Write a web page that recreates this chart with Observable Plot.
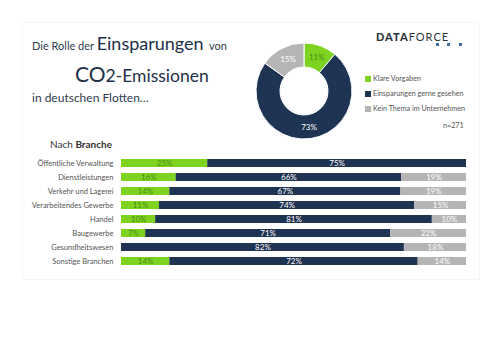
<!DOCTYPE html>
<html><head><meta charset="utf-8">
<script src="https://cdn.jsdelivr.net/npm/d3@7"></script>
<script src="https://cdn.jsdelivr.net/npm/@observablehq/plot@0.6"></script>
<style>
body{margin:0;background:#fff;font-family:Lato,"Open Sans",sans-serif;}
#wrap{position:relative;width:500px;height:353px;overflow:hidden;background:#fff;}
.abs{position:absolute;white-space:nowrap;}
#frame{position:absolute;left:22px;top:22px;width:456px;height:256px;border:1px solid #f6f6f6;}
.line{display:flex;align-items:baseline;line-height:1;color:#2e3b4e;}
.leg{position:absolute;left:365px;font-size:7.2px;color:#555;display:flex;align-items:center;white-space:nowrap;}
.sw{width:6px;height:6px;margin-right:2px;display:inline-block;}
.dot{position:absolute;width:3px;height:3px;background:#3a6ea5;}
</style></head><body><div id="wrap"><div id="frame"></div></div>
<script>
const branchen = ["Öffentliche Verwaltung","Dienstleistungen","Verkehr und Lagerei","Verarbeitendes Gewerbe","Handel","Baugewerbe","Gesundheitswesen","Sonstige Branchen"];
const kategorien = ["Klare Vorgaben","Einsparungen gerne gesehen","Kein Thema im Unternehmen"];
const klareVorgaben = [25,16,14,11,10,7,0,14];
const einsparungenGerne = [75,66,67,74,81,71,82,72];
const keinThema = [0,19,19,15,10,22,18,14];
const gesamt = [11,73,15];
const farben = ["#7ed321","#1f3352","#b5b5b5"];
const stichprobe = "n=271";

const wrap = document.getElementById("wrap");
const font = "Lato, 'Open Sans', sans-serif";

// Titles
function addHTML(html, css){const d=document.createElement("div");d.className="abs";d.style.cssText=css;d.innerHTML=html;wrap.appendChild(d);return d;}
addHTML('<div class="line"><span style="font-size:11px">Die Rolle der&nbsp;</span><span style="font-size:18px;color:#1e2f48">Einsparungen</span><span style="font-size:11px">&nbsp;&nbsp;von</span></div>',"left:32px;top:34px;");
addHTML('<div class="line" style="color:#1e2f48"><span style="font-size:21px">CO</span><span style="font-size:17.5px">2-Emissionen</span></div>',"left:75px;top:63px;");
addHTML('<div class="line"><span style="font-size:12px">in deutschen Flotten…</span></div>',"left:32px;top:92px;");
addHTML('<div class="line" style="color:#333"><span style="font-size:10px">Nach&nbsp;</span><span style="font-size:10px;font-weight:bold">Branche</span></div>',"left:50px;top:139px;");

// Logo
addHTML('<span style="font-weight:900">DATA</span><span style="font-weight:400">FORCE</span>',"left:376px;top:31px;font-size:11px;letter-spacing:1px;color:#2d3540;line-height:1;");
[436,447,459].forEach(x=>{const d=document.createElement("div");d.className="dot";d.style.left=x+"px";d.style.top="43px";wrap.appendChild(d);});

// Legend
const legY=[78,93,108];
kategorien.forEach((k,i)=>{const d=document.createElement("div");d.className="leg";d.style.top=(legY[i]-4)+"px";d.innerHTML=`<span class="sw" style="background:${farben[i]}"></span>${k}`;wrap.appendChild(d);});
addHTML(stichprobe,"left:443px;top:121px;font-size:7.2px;color:#555;");

// Bars
const rows = branchen.flatMap((b,i)=>[klareVorgaben[i],einsparungenGerne[i],keinThema[i]].map((v,k)=>({branche:b,kategorie:kategorien[k],wert:v})));
const bars = Plot.plot({
  width:500,height:353,marginLeft:121,marginRight:34,marginTop:153.7,marginBottom:82.5,
  x:{domain:[0,1],axis:null},
  y:{domain:branchen,paddingInner:0.42,paddingOuter:0.21,label:null,tickSize:0,tickPadding:8},
  color:{domain:kategorien,range:farben},
  style:{fontFamily:font,fontSize:"7.5px",color:"#555",background:"transparent",overflow:"visible"},
  marks:[
    Plot.barX(rows,Plot.stackX({x:"wert",y:"branche",fill:"kategorie",offset:"normalize",order:kategorien})),
    Plot.text(rows,Plot.stackX({x:"wert",y:"branche",z:"kategorie",offset:"normalize",order:kategorien,
      text:d=>d.kategorie===kategorien[0]&&d.wert>0?d.wert+"%":null,fill:"#4c8c14",fontSize:8})),
    Plot.text(rows,Plot.stackX({x:"wert",y:"branche",z:"kategorie",offset:"normalize",order:kategorien,
      text:d=>d.kategorie!==kategorien[0]&&d.wert>0?d.wert+"%":null,fill:"white",fontSize:8}))
  ]
});
bars.style.position="absolute";bars.style.left="0";bars.style.top="0";
wrap.appendChild(bars);

// Donut
const R=48, r0=24;
const pie=d3.pie().sort(null).value(d=>d.wert)(gesamt.map((w,i)=>({kategorie:kategorien[i],wert:w})));
const arcL=d3.arc().innerRadius(r0).outerRadius(R);
const labels=pie.map(p=>{const c=arcL.centroid(p);return {x:c[0],y:-c[1],text:p.data.wert+"%",kategorie:p.data.kategorie};});
const donut=Plot.plot({
  width:100,height:100,margin:0,
  x:{domain:[-50,50],axis:null},y:{domain:[-50,50],axis:null},
  style:{background:"transparent",fontFamily:font,overflow:"visible"},
  marks:[
    (index,scales)=>{
      const cx=scales.x(0), cy=scales.y(0), k=Math.abs(scales.x(1)-scales.x(0));
      const arc=d3.arc().innerRadius(r0*k).outerRadius(R*k);
      const g=d3.create("svg:g").attr("transform",`translate(${cx},${cy})`);
      g.selectAll("path").data(pie).join("path").attr("d",arc).attr("fill",(d,i)=>farben[i]).attr("stroke","white").attr("stroke-width",1);
      return g.node();
    },
    Plot.text(labels,{x:"x",y:"y",text:"text",fill:d=>d.kategorie===kategorien[0]?"#4c8c14":"white",fontSize:8})
  ]
});
donut.style.position="absolute";donut.style.left="254px";donut.style.top="41px";
wrap.appendChild(donut);
</script></body></html>
